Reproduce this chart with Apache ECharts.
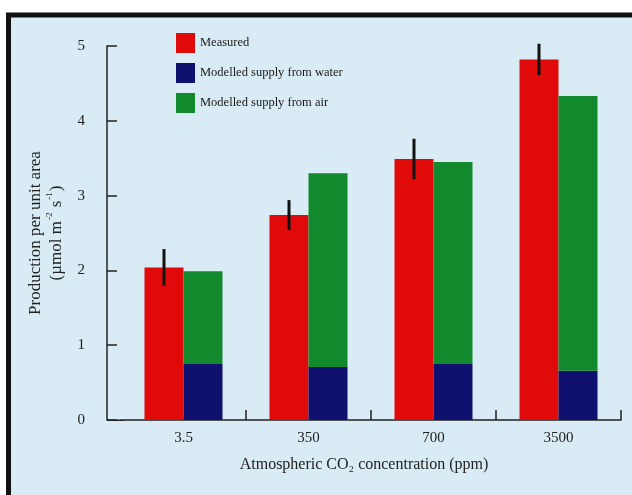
<!DOCTYPE html>
<html>
<head>
<meta charset="utf-8">
<script src="https://cdn.jsdelivr.net/npm/echarts@6/dist/echarts.min.js"></script>
<style>
html,body{margin:0;padding:0;background:#ffffff;}
#chart{width:632px;height:495px;}
</style>
</head>
<body>
<div id="chart"></div>
<script>
var categories = ['3.5', '350', '700', '3500'];
var measured = [2.04, 2.74, 3.49, 4.82];
var measuredErr = [0.245, 0.2, 0.27, 0.21];
var supplyWater = [0.75, 0.71, 0.75, 0.66];
var supplyAir = [1.24, 2.59, 2.70, 3.67];
var yTicks = [0, 1, 2, 3, 4, 5];

var FONT = '"Liberation Serif", "DejaVu Serif", serif';
var BAR_W = 39;
var BG = '#d9ebf4';

var chart = echarts.init(document.getElementById('chart'), null, {renderer: 'canvas'});
var option = {
  backgroundColor: 'transparent',
  animation: false,
  graphic: [
    {type: 'rect', z: -10, silent: true,
     shape: {x: 8.5, y: 15, width: 700, height: 600},
     style: {fill: BG, stroke: '#111111', lineWidth: 5}},
    {type: 'rect', z: 10, silent: true,
     shape: {x: 118.5, y: 406, width: 5, height: 13.6},
     style: {fill: BG}},
    {type: 'line', z: 10, silent: true,
     shape: {x1: 107, y1: 420.25, x2: 124, y2: 420.25},
     style: {stroke: '#222222', lineWidth: 1.5}}
  ],
  legend: {
    orient: 'vertical',
    left: 176, top: 33, padding: 0,
    itemWidth: 19, itemHeight: 20, itemGap: 10,
    icon: 'rect',
    data: ['Measured', 'Modelled supply from water', 'Modelled supply from air'],
    textStyle: {fontFamily: FONT, fontSize: 12.5, color: '#1a1a1a'}
  },
  grid: {left: 121, right: 11, top: 46, bottom: 75, containLabel: false},
  xAxis: {
    type: 'category',
    data: categories,
    boundaryGap: true,
    axisLine: {lineStyle: {color: '#222', width: 1.5}},
    axisTick: {show: true, inside: true, length: 10, interval: 0,
               lineStyle: {color: '#222', width: 1.5}},
    axisLabel: {fontFamily: FONT, fontSize: 15, color: '#222', margin: 11},
    name: 'Atmospheric CO\u2082 concentration (ppm)',
    nameLocation: 'middle',
    nameGap: 37,
    nameTextStyle: {fontFamily: FONT, fontSize: 16, color: '#222', padding: [0, 14, 0, 0]}
  },
  yAxis: {
    type: 'value',
    min: yTicks[0], max: yTicks[yTicks.length - 1], interval: 1,
    offset: 14,
    splitLine: {show: false},
    axisLine: {show: true, lineStyle: {color: '#222', width: 1.5}},
    axisTick: {show: true, inside: true, length: 10, lineStyle: {color: '#222', width: 1.5}},
    axisLabel: {fontFamily: FONT, fontSize: 15, color: '#222', margin: 22},
    name: 'Production per unit area\n(\u00b5mol m{sup|-2} s{sup|-1})',
    nameLocation: 'middle',
    nameRotate: 90,
    nameGap: 40,
    nameTextStyle: {fontFamily: FONT, fontSize: 17, color: '#222', lineHeight: 21,
      rich: {sup: {fontFamily: FONT, fontSize: 9, color: '#222', verticalAlign: 'top', lineHeight: 21, padding: [0, 1, 8, 1]}}}
  },
  series: [
    {name: 'Measured', type: 'bar', barWidth: BAR_W, barGap: '0%',
     itemStyle: {color: '#e00a0a'}, data: measured},
    {name: 'Modelled supply from water', type: 'bar', stack: 'model', barWidth: BAR_W,
     itemStyle: {color: '#10106e'}, data: supplyWater},
    {name: 'Modelled supply from air', type: 'bar', stack: 'model', barWidth: BAR_W,
     itemStyle: {color: '#12892c'}, data: supplyAir},
    {name: 'err', type: 'custom', z: 5,
     data: measured.map(function (v, i) { return [i, v - measuredErr[i], v + measuredErr[i]]; }),
     renderItem: function (params, api) {
       var lo = api.coord([api.value(0), api.value(1)]);
       var hi = api.coord([api.value(0), api.value(2)]);
       var x = lo[0] - BAR_W / 2;
       return {type: 'line', shape: {x1: x, y1: lo[1], x2: x, y2: hi[1]},
               style: {stroke: '#111', lineWidth: 3}};
     }}
  ]
};
chart.setOption(option);
</script>
</body>
</html>
